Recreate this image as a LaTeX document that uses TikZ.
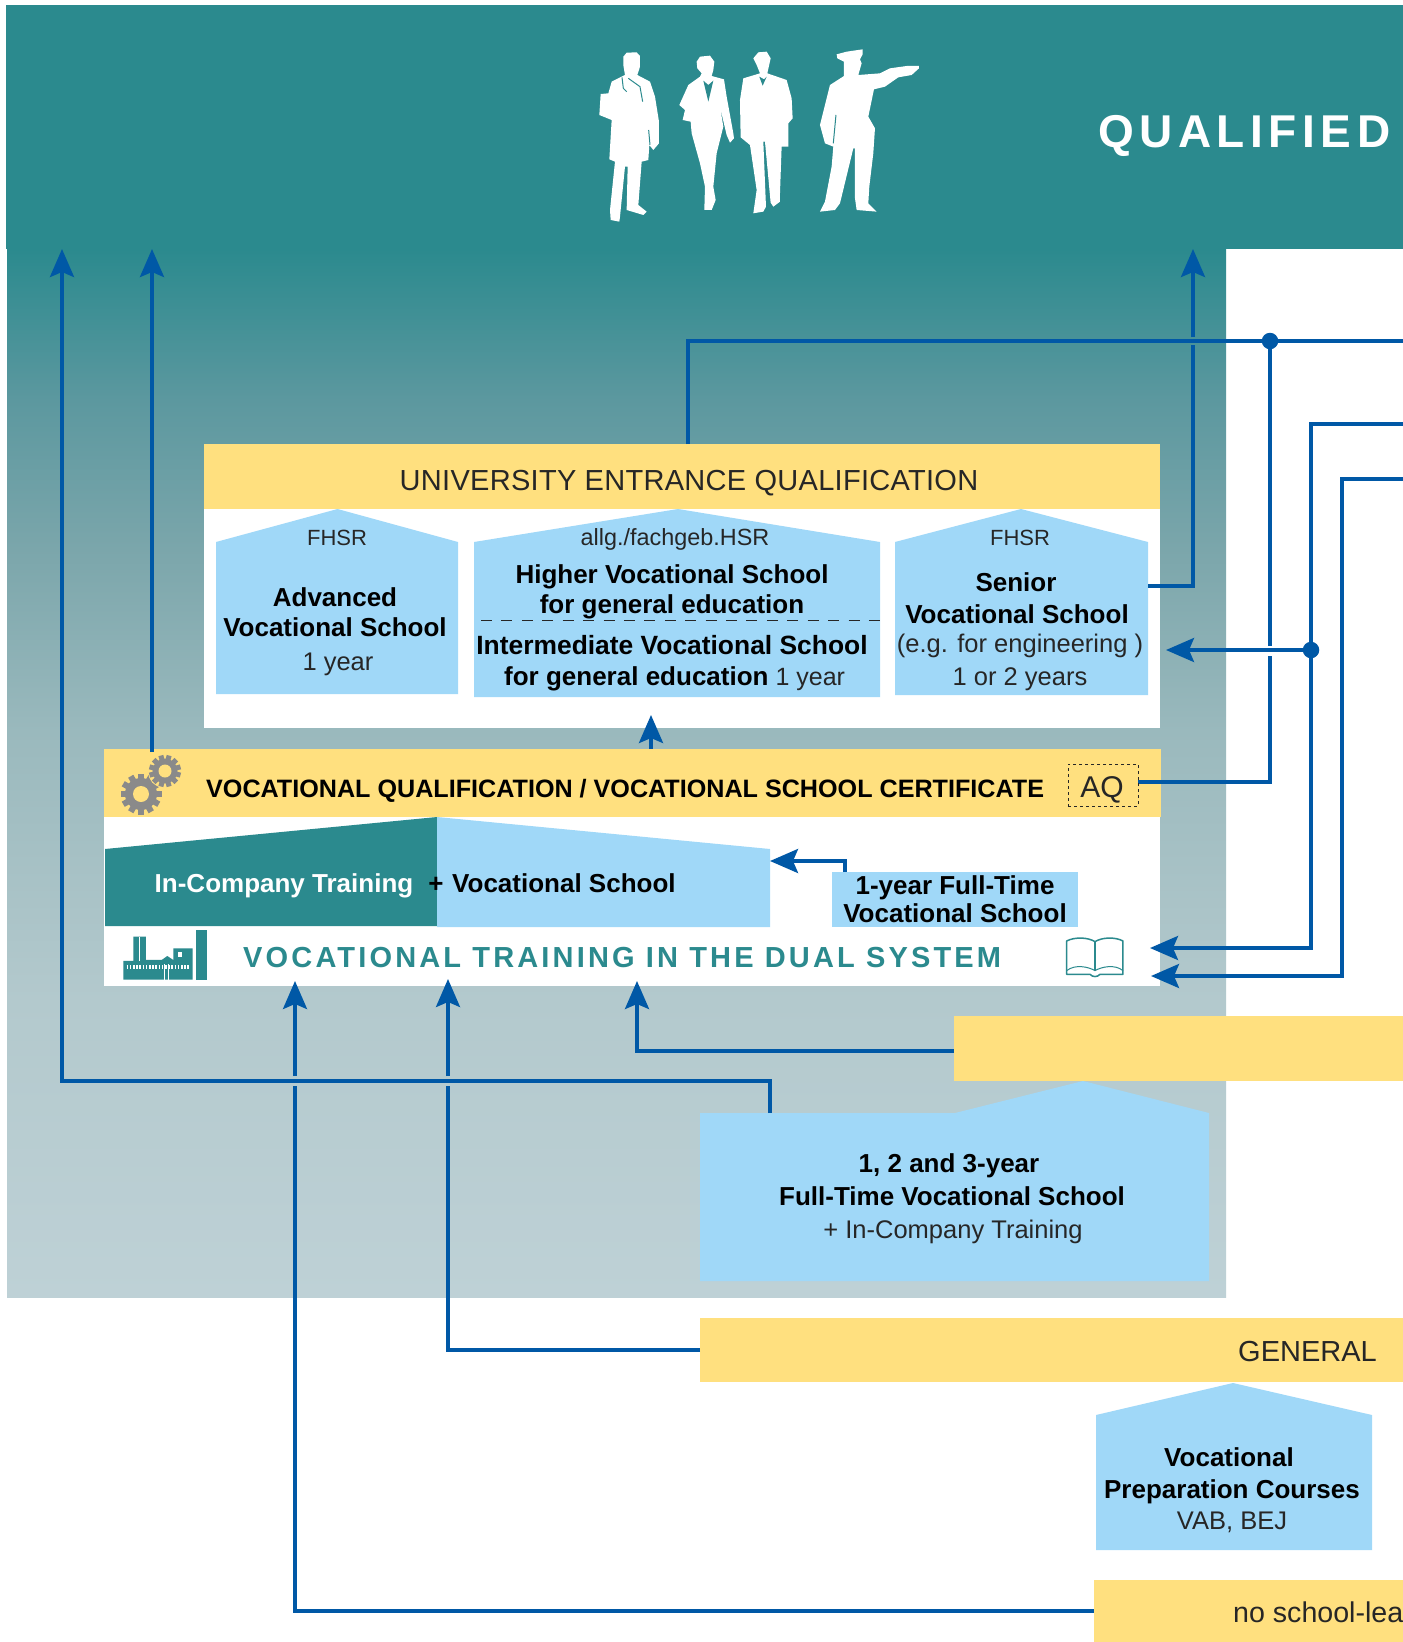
\documentclass[tikz,border=0pt]{standalone}
\usepackage{fontspec}
\setmainfont{Liberation Sans}
\usetikzlibrary{arrows.meta}
\definecolor{tealc}{HTML}{2B8A8E}
\definecolor{yel}{HTML}{FFE07F}
\definecolor{sky}{HTML}{A0D8F8}
\definecolor{lin}{HTML}{0058A6}
\definecolor{gearc}{HTML}{8A8A8A}
\definecolor{PA}{HTML}{BED1D6}
\definecolor{PB}{HTML}{B3C9CD}
\definecolor{PC}{HTML}{9AB9BD}
\definecolor{PD}{HTML}{7BA6AB}
\definecolor{PE}{HTML}{5C989F}
\definecolor{PF}{HTML}{2B8A8E}
\pgfdeclareverticalshading{panelshade}{100bp}{color(0bp)=(PA); color(25bp)=(PA); color(39.2bp)=(PB); color(52bp)=(PC); color(60.7bp)=(PD); color(67.8bp)=(PE); color(75bp)=(PF); color(100bp)=(PF)}
\newcommand{\fz}[2]{\fontsize{#1}{#2}\selectfont}
\tikzset{
  conn/.style={draw=lin,line width=3.6pt,line join=miter},
  thinconn/.style={draw=lin,line width=3.2pt,line join=miter},
  arr/.style={-{Stealth[length=28pt,width=24pt,inset=5pt]}},
  dotc/.style={circle,fill=lin,inner sep=0pt,minimum size=16.5pt},
  bar/.style={fill=yel,inner sep=0pt,anchor=north west},
  sil/.style={fill=white},
  bd/.style={inner sep=0pt,font=\fz{26}{31}\bfseries,text=black},
  rg/.style={inner sep=0pt,font=\fz{25.5}{31},text=black!85},
  sm/.style={inner sep=0pt,font=\fz{22}{26},text=black!85},
}
\begin{document}
\begin{tikzpicture}[x=1pt,y=-1pt]
\useasboundingbox (0,0) rectangle (1403,1642);
\fill[white] (0,0) rectangle (1403,1642);
% panel and top band
\shade[shading=panelshade] (7,249) rectangle (1226,1297);
\fill[tealc] (6,5) rectangle (1403,249);
% white areas
\fill[white] (204,444) rectangle (1160,728);
\fill[white] (104,749) rectangle (1160,986);
% bars
\node[bar,minimum width=956pt,minimum height=65pt] (ueq) at (204,444) {};
\node[bar,minimum width=1057pt,minimum height=68pt] (vq) at (104,749) {};
\node[bar,minimum width=449pt,minimum height=65pt] (yone) at (954,1016) {};
\node[bar,minimum width=703pt,minimum height=64pt] (gen) at (700,1318) {};
\node[bar,minimum width=309pt,minimum height=62pt] (noschool) at (1094,1580) {};
% houses
\fill[sky] (216,542) -- (337.5,509) -- (458,542) -- (458,694) -- (216,694) -- cycle;
\fill[sky] (474,542) -- (678,509) -- (880,542) -- (880,697) -- (474,697) -- cycle;
\fill[sky] (895,542) -- (1021,509) -- (1148,542) -- (1148,695) -- (895,695) -- cycle;
\fill[sky] (700,1113) -- (955,1113) -- (1083,1081) -- (1209,1113) -- (1209,1281) -- (700,1281) -- cycle;
\fill[sky] (1096,1415) -- (1233,1383) -- (1372,1415) -- (1372,1550) -- (1096,1550) -- cycle;
\draw[black!85,line width=1pt,dash pattern=on 11pt off 9.42pt] (481,620) -- (880,620);
% dual system blocks
\fill[tealc] (105,849) -- (437,817) -- (437,926) -- (105,926) -- cycle;
\fill[sky] (437,817) -- (770,849) -- (770,927) -- (437,927) -- cycle;
\node[fill=sky,inner sep=0pt,anchor=north west,minimum width=246pt,minimum height=55pt] (oneyr) at (832,872) {};
% named connector ends
\coordinate (tU) at (62,249);
\coordinate (tV) at (152,249);
\coordinate (tS) at (1193,249);
\coordinate (j1) at (1270,341);
\coordinate (j1e) at (1403,341);
\coordinate (j0) at (688,341);
\coordinate (ueqT) at (688,444);
\coordinate (sS) at (1148,586);
\coordinate (sC) at (1193,586);
\coordinate (sG1) at (1193,345);
\coordinate (sG2) at (1193,337);
\coordinate (j2) at (1311,650);
\coordinate (tR) at (1166,650);
\coordinate (g1a) at (1270,646);
\coordinate (g1b) at (1270,656);
\coordinate (aqC) at (1270,782);
\coordinate (aqE) at (1138,782);
\coordinate (l2s) at (1403,424);
\coordinate (l2c) at (1311,424);
\coordinate (l2d) at (1311,948);
\coordinate (l2t) at (1150,948);
\coordinate (l3s) at (1403,479);
\coordinate (l3c) at (1342,479);
\coordinate (l3d) at (1342,976);
\coordinate (l3t) at (1151,976);
\coordinate (uS) at (651,749);
\coordinate (uT) at (651,715);
\coordinate (vS) at (152,752);
\coordinate (oS) at (845,872);
\coordinate (oC) at (845,861);
\coordinate (oT) at (770,861);
\coordinate (fS) at (770,1113);
\coordinate (fC) at (770,1081);
\coordinate (fL) at (62,1081);
\coordinate (yS) at (954,1051);
\coordinate (yC) at (637,1051);
\coordinate (yT) at (637,981);
\coordinate (gS) at (700,1350);
\coordinate (gC) at (448,1350);
\coordinate (gG1) at (448,1086);
\coordinate (gG2) at (448,1076);
\coordinate (gT) at (448,979);
\coordinate (nS) at (1094,1611);
\coordinate (nC) at (295,1611);
\coordinate (nG1) at (295,1086);
\coordinate (nG2) at (295,1076);
\coordinate (nT) at (295,981);
% connectors
\draw[conn,arr] (fS) -- (fC) -- (fL) -- (tU);
\draw[conn,arr] (vS) -- (tV);
\draw[conn,arr] (uS) -- (uT);
\draw[conn,arr] (oS) -- (oC) -- (oT);
\draw[thinconn] (ueqT) -- (j0) -- (j1e);
\draw[conn] (sS) -- (sC) -- (sG1);
\draw[conn,arr] (sG2) -- (tS);
\draw[conn] (j1) -- (g1a);
\draw[conn] (g1b) -- (aqC) -- (aqE);
\draw[conn,arr] (j2) -- (tR);
\draw[conn,arr] (l2s) -- (l2c) -- (l2d) -- (l2t);
\draw[conn,arr] (l3s) -- (l3c) -- (l3d) -- (l3t);
\draw[conn,arr] (yS) -- (yC) -- (yT);
\draw[thinconn] (gS) -- (gC) -- (gG1);
\draw[thinconn,arr] (gG2) -- (gT);
\draw[thinconn] (nS) -- (nC) -- (nG1);
\draw[thinconn,arr] (nG2) -- (nT);
\node[dotc] (d1) at (j1) {};
\node[dotc] (d2) at (j2) {};
% people
\begin{scope}[shift={(560,20)},x=.3333pt,y=-.3333pt]
\fill[sil] (190,110)--(200,98)--(230,97)--(240,108)--(240,140)--(232,165)--(270,185)--(285,230)--(297,305)--(297,370)--(280,390)--(268,375)--(265,420)--(245,425)--(235,555)--(260,575)--(250,585)--(200,570)--(203,440)--(195,440)--(180,590)--(178,605)--(152,600)--(150,570)--(165,425)--(148,418)--(155,300)--(118,285)--(122,222)--(145,220)--(155,185)--(195,165)--(190,135)--cycle;
\draw[tealc,line width=1pt] (186,172)--(190,205)--(200,215) (205,175)--(240,200)--(248,245) (266,330)--(270,375);
\fill[sil] (410,125)--(420,110)--(450,107)--(463,125)--(460,150)--(455,168)--(492,178)--(500,230)--(520,340)--(522,355)--(510,368)--(500,345)--(480,260)--(490,320)--(470,400)--(460,500)--(467,540)--(455,570)--(433,570)--(435,500)--(420,430)--(395,340)--(392,305)--(368,300)--(375,270)--(358,255)--(385,195)--(420,170)--(425,160)--(412,145)--cycle;
\fill[tealc] (430,182)--(445,245)--(460,182)--(445,195)--cycle;
\fill[sil] (580,115)--(595,97)--(620,95)--(632,115)--(622,160)--(680,180)--(695,235)--(698,295)--(685,310)--(685,380)--(665,380)--(660,520)--(660,545)--(640,560)--(632,548)--(615,365)--(610,365)--(618,560)--(610,575)--(580,580)--(590,510)--(570,375)--(542,352)--(540,240)--(550,175)--(600,160)--(590,135)--cycle;
\fill[tealc] (598,170)--(608,197)--(620,170)--(612,178)--cycle;
\fill[sil] (830,103)--(860,95)--(908,88)--(908,103)--(900,118)--(905,130)--(895,165)--(960,160)--(990,145)--(1040,138)--(1077,138)--(1077,145)--(1055,165)--(1015,172)--(975,200)--(942,208)--(925,290)--(945,325)--(940,400)--(928,500)--(925,550)--(950,575)--(890,570)--(885,535)--(885,385)--(880,385)--(840,550)--(825,570)--(780,575)--(795,545)--(815,440)--(820,380)--(795,370)--(780,315)--(810,195)--(852,168)--(852,125)--(832,115)--cycle;
\draw[tealc,line width=1pt] (828,285)--(820,370);
\end{scope}
% gears
\begin{scope}[shift={(141,794)}]
\fill[gearc] (0,0) circle (16pt);
\foreach \a in {0,30,...,150}{\fill[gearc,rotate=\a] (-3pt,-20.5pt) rectangle (3pt,20.5pt);}
\fill[yel] (0,0) circle (8pt);
\end{scope}
\begin{scope}[shift={(165,771)}]
\fill[yel] (0,0) circle (17pt);
\fill[gearc] (0,0) circle (12.5pt);
\foreach \a in {15,45,...,165}{\fill[gearc,rotate=\a] (-2.5pt,-16pt) rectangle (2.5pt,16pt);}
\fill[yel] (0,0) circle (6.5pt);
\end{scope}
% factory
\begin{scope}[shift={(90,730)},x=.3333pt,y=-.3333pt]
\fill[tealc] (130,620)--(168,620)--(168,690)--(215,690)--(232,678)--(250,690)--(250,655)--(308,655)--(308,749)--(100,749)--(100,693)--(130,693)--cycle;
\fill[tealc] (318,600) rectangle (351,749);
\fill[white] (147,620) rectangle (151,693);
\fill[white] (264,665) rectangle (275,680);
\draw[white,line width=4pt,dash pattern=on 1.6pt off 1.6pt] (110,712) -- (298,712);
\draw[white,line width=.7pt] (224,703) -- (224,749) (236,703) -- (236,749);
\end{scope}
% book
\begin{scope}[shift={(1000,740)},x=.3333pt,y=-.3333pt]
\draw[tealc,line width=1.5pt,line join=round] (200,703) -- (200,603) .. controls (225,590) and (265,592) .. (285,605) .. controls (305,592) and (345,590) .. (369,603) -- (369,703) -- (300,703) .. controls (292,712) and (278,712) .. (270,703) -- cycle;
\draw[tealc,line width=1.5pt] (285,605) -- (285,692);
\draw[tealc,line width=1pt] (200,692) .. controls (225,672) and (265,680) .. (285,692) .. controls (305,680) and (345,672) .. (369,692);
\end{scope}
% AQ
\node[draw=black!85,line width=1pt,dash pattern=on 3pt off 3pt,inner sep=0pt,minimum width=70pt,minimum height=42pt] (aqbox) at (1103,785) {};
\node[inner sep=0pt,font=\fz{30}{34},text=black!85] (aq) at (1102,790) {AQ};
% texts
\node[inner sep=0pt,anchor=base west,font=\fz{46}{46}\bfseries\addfontfeature{LetterSpace=12},text=white] (qual) at (1098,147) {QUALIFIED};
\node[inner sep=0pt,font=\fz{29}{33}\addfontfeature{LetterSpace=1},text=black!85] (ueqt) at (689,483) {UNIVERSITY ENTRANCE QUALIFICATION};
\node[sm] (f1) at (337,538) {FHSR};
\node[bd] (a1) at (335,597) {Advanced};
\node[bd] (a2) at (335,627) {Vocational School};
\node[rg] (a3) at (338,664) {1 year};
\node[sm,font=\fz{23.4}{26}] (m0) at (675,539) {allg./fachgeb.HSR};
\node[bd] (m1) at (672,577) {Higher Vocational School};
\node[bd] (m2) at (672,607) {for general education};
\node[bd,font=\fz{26.4}{31}\bfseries] (m3) at (672,645) {Intermediate Vocational School};
\node[bd,anchor=west] (m4) at (504,679) {for general education\hspace{7pt}{\mdseries\color{black!85}\fz{25}{31}1 year}};
\node[sm] (f3) at (1020,538) {FHSR};
\node[bd] (s1) at (1016,582) {Senior};
\node[bd] (s2) at (1017,614) {Vocational School};
\node[rg] (s3) at (1020,646) {(e.g. for engineering )};
\node[rg] (s4) at (1020,679) {1 or 2 years};
\node[bd,anchor=west,font=\fz{25.15}{30}\bfseries] (vqt) at (206,791) {VOCATIONAL QUALIFICATION / VOCATIONAL SCHOOL CERTIFICATE};
\node[bd,text=white] (ict) at (284,886) {In-Company Training};
\node[bd] (plus) at (436,885) {+};
\node[bd,anchor=west] (vst) at (452,883) {Vocational School};
\node[bd] (oy1) at (955,888) {1-year Full-Time};
\node[bd] (oy2) at (955,913) {Vocational School};
\node[inner sep=0pt,anchor=west,font=\fz{29}{33}\bfseries\addfontfeature{LetterSpace=10.9},text=tealc] (vtd) at (243,958) {VOCATIONAL TRAINING IN THE DUAL SYSTEM};
\node[bd] (ft1) at (949,1166) {1, 2 and 3-year};
\node[bd] (ft2) at (952,1196) {Full-Time Vocational School};
\node[rg] (ft3) at (953,1232) {+ In-Company Training};
\node[inner sep=0pt,anchor=east,font=\fz{29}{33},text=black!85] (gent) at (1377,1351) {GENERAL};
\node[bd] (p1) at (1229,1457) {Vocational};
\node[bd] (p2) at (1232,1492) {Preparation Courses};
\node[rg] (p3) at (1232,1522) {VAB, BEJ};
\node[inner sep=0pt,anchor=west,font=\fz{28.6}{33},text=black!85] (nst) at (1233,1612) {no school-lea};
\end{tikzpicture}
\end{document}
